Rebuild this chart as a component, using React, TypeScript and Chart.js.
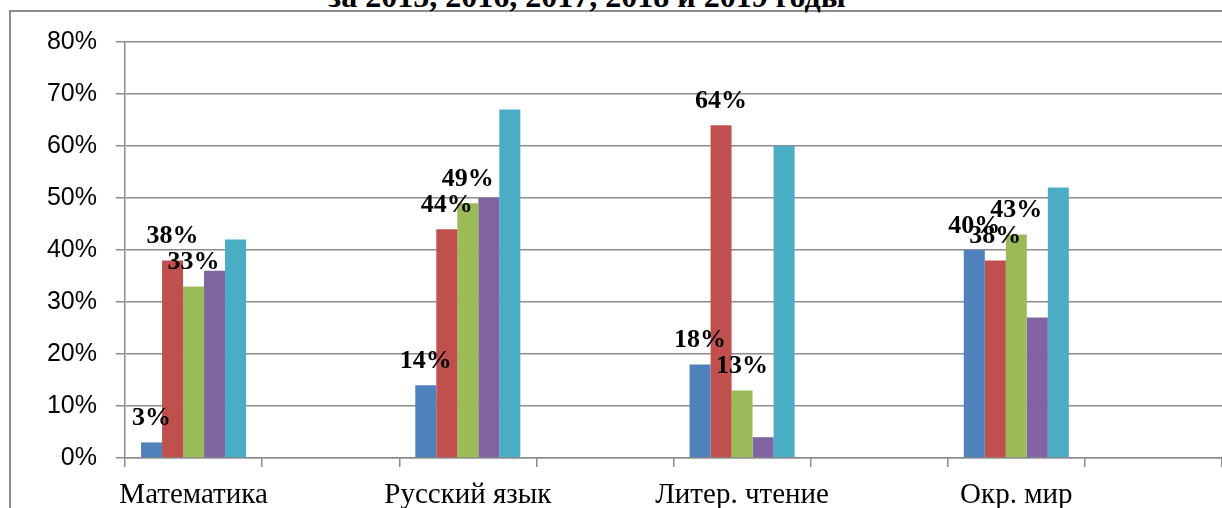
import React, { useEffect, useRef } from 'react';
import { Chart, registerables } from 'chart.js';

Chart.register(...registerables);

const titleText = 'за 2015, 2016, 2017, 2018 и 2019 годы';
const categories = ['Математика', 'Русский язык', 'Литер. чтение', 'Окр. мир'];
const seriesNames = ['2015', '2016', '2017', '2018', '2019'];
const values2015 = [3, 14, 18, 40];
const values2016 = [38, 44, 64, 38];
const values2017 = [33, 49, 13, 43];
const values2018 = [36, 50, 4, 27];
const values2019 = [42, 67, 60, 52];
const seriesColors = ['#4F81BD', '#C0504D', '#9BBB59', '#8064A2', '#4BACC6'];
const labelledSeries = [true, true, true, false, false];
const yMin = 0;
const yMax = 80;
const yStep = 10;

const GRID = '#8c8c8c';

export default function App() {
  const ref = useRef<HTMLCanvasElement | null>(null);

  useEffect(() => {
    document.body.style.margin = '0';
    const canvas = ref.current;
    if (!canvas) return;

    const labels = categories.flatMap((c) => [c, '']);
    const all = [values2015, values2016, values2017, values2018, values2019];
    const datasets = all.map((vals, i) => ({
      label: seriesNames[i],
      data: vals.flatMap((v) => [v, null]),
      backgroundColor: seriesColors[i],
      borderWidth: 0,
      categoryPercentage: 0.766,
      barPercentage: 1,
    }));

    const valueLabels = {
      id: 'valueLabels',
      afterDatasetsDraw(chart: any) {
        const ctx = chart.ctx;
        ctx.save();
        ctx.font = 'bold 26px "Liberation Serif", "Times New Roman", serif';
        ctx.fillStyle = '#000';
        ctx.textAlign = 'center';
        ctx.textBaseline = 'alphabetic';
        chart.data.datasets.forEach((ds: any, di: number) => {
          if (!labelledSeries[di]) return;
          const meta = chart.getDatasetMeta(di);
          meta.data.forEach((el: any, idx: number) => {
            const v = ds.data[idx];
            if (v === null || v === undefined) return;
            ctx.fillText(v + '%', el.x, el.y - 17);
          });
        });
        ctx.restore();
      },
    };

    const chart = new Chart(canvas, {
      type: 'bar',
      data: { labels, datasets },
      options: {
        animation: false,
        responsive: false,
        layout: { padding: { left: 0, right: 0, top: 42, bottom: 0 } },
        plugins: {
          legend: { display: false },
          tooltip: { enabled: false },
          title: { display: false },
        },
        scales: {
          x: {
            afterFit: (s: any) => {
              s.height = 50;
            },
            grid: {
              display: true,
              drawOnChartArea: false,
              drawTicks: true,
              tickLength: 9,
              color: GRID,
              lineWidth: 1.5,
              offset: true,
            },
            border: { display: true, color: GRID, width: 1.5 },
            ticks: {
              color: '#000',
              font: { family: '"Liberation Serif", "Times New Roman", serif', size: 29 },
              padding: 11,
              maxRotation: 0,
              autoSkip: false,
            },
          },
          y: {
            min: yMin,
            max: yMax,
            afterFit: (s: any) => {
              s.width = 125;
            },
            grid: {
              color: GRID,
              lineWidth: 1.5,
              drawTicks: true,
              tickLength: 9,
            },
            border: { display: true, color: GRID, width: 1.5 },
            ticks: {
              stepSize: yStep,
              color: '#000',
              padding: 19,
              font: { family: '"Liberation Sans", Arial, sans-serif', size: 25 },
              callback: (v: any) => v + '%',
            },
          },
        },
      },
      plugins: [valueLabels],
    });

    return () => {
      chart.destroy();
    };
  }, []);

  return (
    <div
      style={{
        position: 'fixed',
        left: 0,
        top: 0,
        width: 1222,
        height: 508,
        overflow: 'hidden',
        background: '#fff',
      }}
    >
      <div
        style={{
          position: 'absolute',
          left: 9,
          top: 10,
          width: 2000,
          height: 2000,
          borderTop: '2px solid #8c8c8c',
          borderLeft: '2px solid #8c8c8c',
        }}
      />
      <div
        style={{
          position: 'absolute',
          left: 0,
          top: -20,
          width: 1174,
          textAlign: 'center',
          fontFamily: '"Liberation Serif", "Times New Roman", serif',
          fontWeight: 'bold',
          fontSize: 32,
          lineHeight: 1,
          whiteSpace: 'nowrap',
        }}
      >
        {titleText}
      </div>
      <canvas
        ref={ref}
        width={1222}
        height={508}
        style={{ position: 'absolute', left: 0, top: 0, width: 1222, height: 508 }}
      />
    </div>
  );
}
